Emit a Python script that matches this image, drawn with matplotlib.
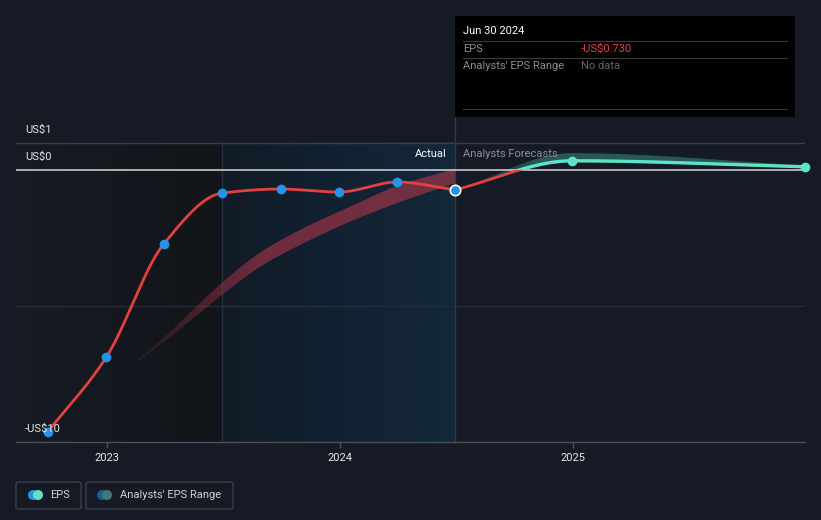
import datetime
import numpy as np
import matplotlib
matplotlib.use("Agg")
import matplotlib.pyplot as plt
from matplotlib.patches import Rectangle, Polygon, FancyBboxPatch, Ellipse
from matplotlib.transforms import blended_transform_factory
from matplotlib.lines import Line2D

plt.rcParams['font.family'] = ['Roboto', 'DejaVu Sans']

# ---------------- data ----------------
eps_dates = ["2022-09-30", "2022-12-31", "2023-03-31", "2023-06-30",
             "2023-09-30", "2023-12-31", "2024-03-31", "2024-06-30"]
eps_values = [-9.63, -6.88, -2.72, -0.85, -0.70, -0.81, -0.44, -0.73]

fc_dates = ["2024-06-30", "2024-12-31", "2025-12-31"]
fc_values = [-0.73, 0.34, 0.12]
fc_low = [-0.73, 0.28, 0.10]
fc_high = [-0.73, 0.62, 0.17]

past_band_dates = ["2023-01-05", "2023-04-04", "2023-06-30", "2023-08-28",
                   "2023-10-30", "2024-01-16", "2024-04-04", "2024-06-30"]
past_band_low = [-7.83, -6.25, -4.60, -3.57, -2.76, -1.91, -1.18, -0.48]
past_band_high = [-7.83, -6.07, -4.15, -3.05, -2.21, -1.36, -0.55, 0.04]

y_ticks = [1, 0, -10]
y_tick_labels = ["US$1", "US$0", "-US$10"]
x_tick_years = [2023, 2024, 2025]
x_tick_labels = ["2023", "2024", "2025"]

tooltip_date = "Jun 30 2024"
tooltip_eps = "-US$0.730"
tooltip_range = "No data"


def decyear(s):
    d = datetime.date.fromisoformat(s)
    a = datetime.date(d.year, 1, 1)
    b = datetime.date(d.year + 1, 1, 1)
    return d.year + (d - a).days / (b - a).days


def monotone(x, y, n=300):
    x = np.asarray(x, float)
    y = np.asarray(y, float)
    h = np.diff(x)
    d = np.diff(y) / h
    m = np.zeros_like(x)
    m[0] = d[0]
    m[-1] = d[-1]
    for k in range(1, len(x) - 1):
        if d[k - 1] * d[k] <= 0:
            m[k] = 0
        else:
            w1 = 2 * h[k] + h[k - 1]
            w2 = h[k] + 2 * h[k - 1]
            m[k] = (w1 + w2) / (w1 / d[k - 1] + w2 / d[k])
    xs = np.linspace(x[0], x[-1], n)
    ys = np.empty_like(xs)
    for i, xv in enumerate(xs):
        k = min(np.searchsorted(x, xv, side='right') - 1, len(x) - 2)
        t = (xv - x[k]) / h[k]
        h00 = 2 * t**3 - 3 * t**2 + 1
        h10 = t**3 - 2 * t**2 + t
        h01 = -2 * t**3 + 3 * t**2
        h11 = t**3 - t**2
        ys[i] = h00 * y[k] + h10 * h[k] * m[k] + h01 * y[k + 1] + h11 * h[k] * m[k + 1]
    return xs, ys


W, H = 821, 520
BG = '#151a24'
fig = plt.figure(figsize=(W / 100, H / 100), dpi=100, facecolor=BG)

x_left = 2023 - 91 / 233
x_right = decyear("2025-12-31")
YTOP = 1.03
ax = fig.add_axes([16 / W, (H - 442) / H, (805 - 16) / W, 300 / H])
ax.set_facecolor('none')

eps_x = [decyear(s) for s in eps_dates]
fc_x = [decyear(s) for s in fc_dates]
split1 = decyear("2023-06-30")
split2 = decyear("2024-06-30")

# background regions
grad = np.linspace(0, 1, 256).reshape(1, -1)
c0 = np.array(matplotlib.colors.to_rgb('#161b24'))
c1 = np.array(matplotlib.colors.to_rgb('#121519'))
img = c0[None, None, :] * (1 - grad[..., None]) + c1[None, None, :] * grad[..., None]
ax.imshow(img, extent=[x_left, split1, -10, YTOP], aspect='auto', zorder=0)
c0 = np.array(matplotlib.colors.to_rgb('#111b27'))
c1 = np.array(matplotlib.colors.to_rgb('#13283b'))
img = c0[None, None, :] * (1 - grad[..., None]) + c1[None, None, :] * grad[..., None]
ax.imshow(img, extent=[split1, split2, -10, YTOP], aspect='auto', zorder=0)

# gridlines
ax.axhline(1, color='#3a404b', lw=1, zorder=1)
ax.axhline(-5, color='#262c36', lw=1, zorder=1)
ax.axhline(0, color='#c8c8c8', lw=1.2, zorder=4)
ax.plot([split1, split1], [-10, YTOP], color='#1e3142', lw=1, zorder=1)
ax.plot([split2, split2], [-10, 5.66], color='#2c3b4c', lw=1, zorder=1, clip_on=False)


def gradient_band(xd, lo, hi, color, a_max, fade_end, zorder):
    xv = [decyear(s) for s in xd]
    bx, blo = monotone(xv, lo)
    _, bhi = monotone(xv, hi)
    verts = np.vstack([np.column_stack([bx, bhi]), np.column_stack([bx[::-1], blo[::-1]])])
    poly = Polygon(verts, closed=True, facecolor='none', edgecolor='none', transform=ax.transData)
    ax.add_patch(poly)
    xs = np.linspace(bx[0], bx[-1], 400)
    alpha = np.clip((xs - bx[0]) / (fade_end - bx[0]), 0, 1) * a_max
    rgb = matplotlib.colors.to_rgb(color)
    im = np.zeros((1, 400, 4))
    im[..., 0], im[..., 1], im[..., 2] = rgb
    im[..., 3] = alpha
    ymin, ymax = blo.min() - 0.1, bhi.max() + 0.1
    artist = ax.imshow(im, extent=[bx[0], bx[-1], ymin, ymax], aspect='auto', zorder=zorder,
                       interpolation='bilinear')
    artist.set_clip_path(poly)


gradient_band(past_band_dates, past_band_low, past_band_high, '#c0394e', 0.55,
              decyear("2023-08-31"), 2)
gradient_band(fc_dates, fc_low, fc_high, '#3a9a8a', 0.5, decyear("2024-11-15"), 2)

RED = '#e3403f'
BLUE = '#2394e6'
TEAL = '#5ee3c9'

# actual line
lx, ly = monotone(eps_x, eps_values)
ax.plot(lx, ly, color=RED, lw=2, zorder=5, solid_capstyle='round')
ax.plot(eps_x[:-1], eps_values[:-1], 'o', color=BLUE, ms=7, mew=0, zorder=6, clip_on=False)
ax.plot(eps_x[-1:], eps_values[-1:], 'o', color=BLUE, ms=7.5, mec='white', mew=1.2, zorder=7)

# forecast line: red below zero, teal above zero
fx, fy = monotone(fc_x, fc_values)
neg = Rectangle((x_left, -20), 10, 20, transform=ax.transData, facecolor='none', edgecolor='none')
pos = Rectangle((x_left, 0), 10, 20, transform=ax.transData, facecolor='none', edgecolor='none')
ax.add_patch(neg)
ax.add_patch(pos)
l1, = ax.plot(fx, fy, color=RED, lw=2, zorder=5)
l1.set_clip_path(neg)
l2, = ax.plot(fx, fy, color=TEAL, lw=2.4, zorder=5)
l2.set_clip_path(pos)
ax.plot(fc_x[1:], fc_values[1:], 'o', color=TEAL, ms=7, mew=0, zorder=6, clip_on=False)

ax.set_xlim(x_left, x_right)
ax.set_ylim(-10, YTOP)

# axes styling
for s in ['top', 'right', 'left']:
    ax.spines[s].set_visible(False)
ax.spines['bottom'].set_color('#4a505b')
ax.spines['bottom'].set_linewidth(1)
ax.spines['bottom'].set_zorder(8)
ax.set_yticks([])
ax.set_xticks(x_tick_years)
ax.set_xticklabels(x_tick_labels)
ax.tick_params(axis='x', colors='#4a505b', length=4, width=1, labelcolor='#e6e6e6',
               labelsize=8, pad=4)

tr = blended_transform_factory(ax.transAxes, ax.transData)
for v, lab in zip(y_ticks, y_tick_labels):
    ax.annotate(lab, xy=(9 / 789, v), xycoords=tr, xytext=(0, 9.5), textcoords='offset points',
                color='#e6e6e6', fontsize=8, va='center', ha='left', zorder=9)

# Actual / Forecast labels
fig.text(447 / W, 1 - 154 / H, "Actual", color='#ffffff', fontsize=8, ha='right', va='center')
fig.text(463 / W, 1 - 154 / H, "Analysts Forecasts", color='#8a8f99', fontsize=8, ha='left', va='center')


def fx_(x):
    return x / W


def fy_(y):
    return 1 - y / H


# tooltip
fig.patches.append(Rectangle((fx_(455), fy_(117)), 340 / W, 101 / H, transform=fig.transFigure,
                             facecolor='#000000', edgecolor='none', zorder=10))
for yy in [41, 58, 109]:
    fig.add_artist(Line2D([fx_(463), fx_(787)], [fy_(yy), fy_(yy)], color='#3a3a3a', lw=0.8,
                          transform=fig.transFigure, zorder=11))
fig.text(fx_(463), fy_(31), tooltip_date, color='#ffffff', fontsize=8, ha='left', va='center', zorder=12)
fig.text(fx_(463), fy_(49), "EPS", color='#8c8c8c', fontsize=8, ha='left', va='center', zorder=12)
fig.text(fx_(581), fy_(49), tooltip_eps, color='#e8403f', fontsize=8, ha='left', va='center', zorder=12)
fig.text(fx_(463), fy_(66), "Analysts' EPS Range", color='#8c8c8c', fontsize=8, ha='left', va='center', zorder=12)
fig.text(fx_(581), fy_(66), tooltip_range, color='#666666', fontsize=8, ha='left', va='center', zorder=12)

# legend
for (x0, x1) in [(16, 81), (86, 233)]:
    fig.patches.append(FancyBboxPatch((fx_(x0), fy_(509)), (x1 - x0) / W, 27 / H,
                                      boxstyle='round,pad=0,rounding_size=0.003',
                                      transform=fig.transFigure, facecolor='none',
                                      edgecolor='#3a404b', lw=1))


def legend_dot(x, y, color):
    fig.patches.append(Ellipse((fx_(x), fy_(y)), 10 / W, 10 / H, transform=fig.transFigure,
                               facecolor=color, edgecolor='none'))


legend_dot(33, 495, BLUE)
legend_dot(38, 495, TEAL)
fig.text(fx_(50), fy_(495), "EPS", color='#d0d0d0', fontsize=8, ha='left', va='center')
legend_dot(102, 495, '#255b8c')
legend_dot(107, 495, '#3d7c77')
fig.text(fx_(120), fy_(495), "Analysts' EPS Range", color='#d0d0d0', fontsize=8, ha='left', va='center')

fig.savefig("out.png", dpi=100, facecolor=BG)
